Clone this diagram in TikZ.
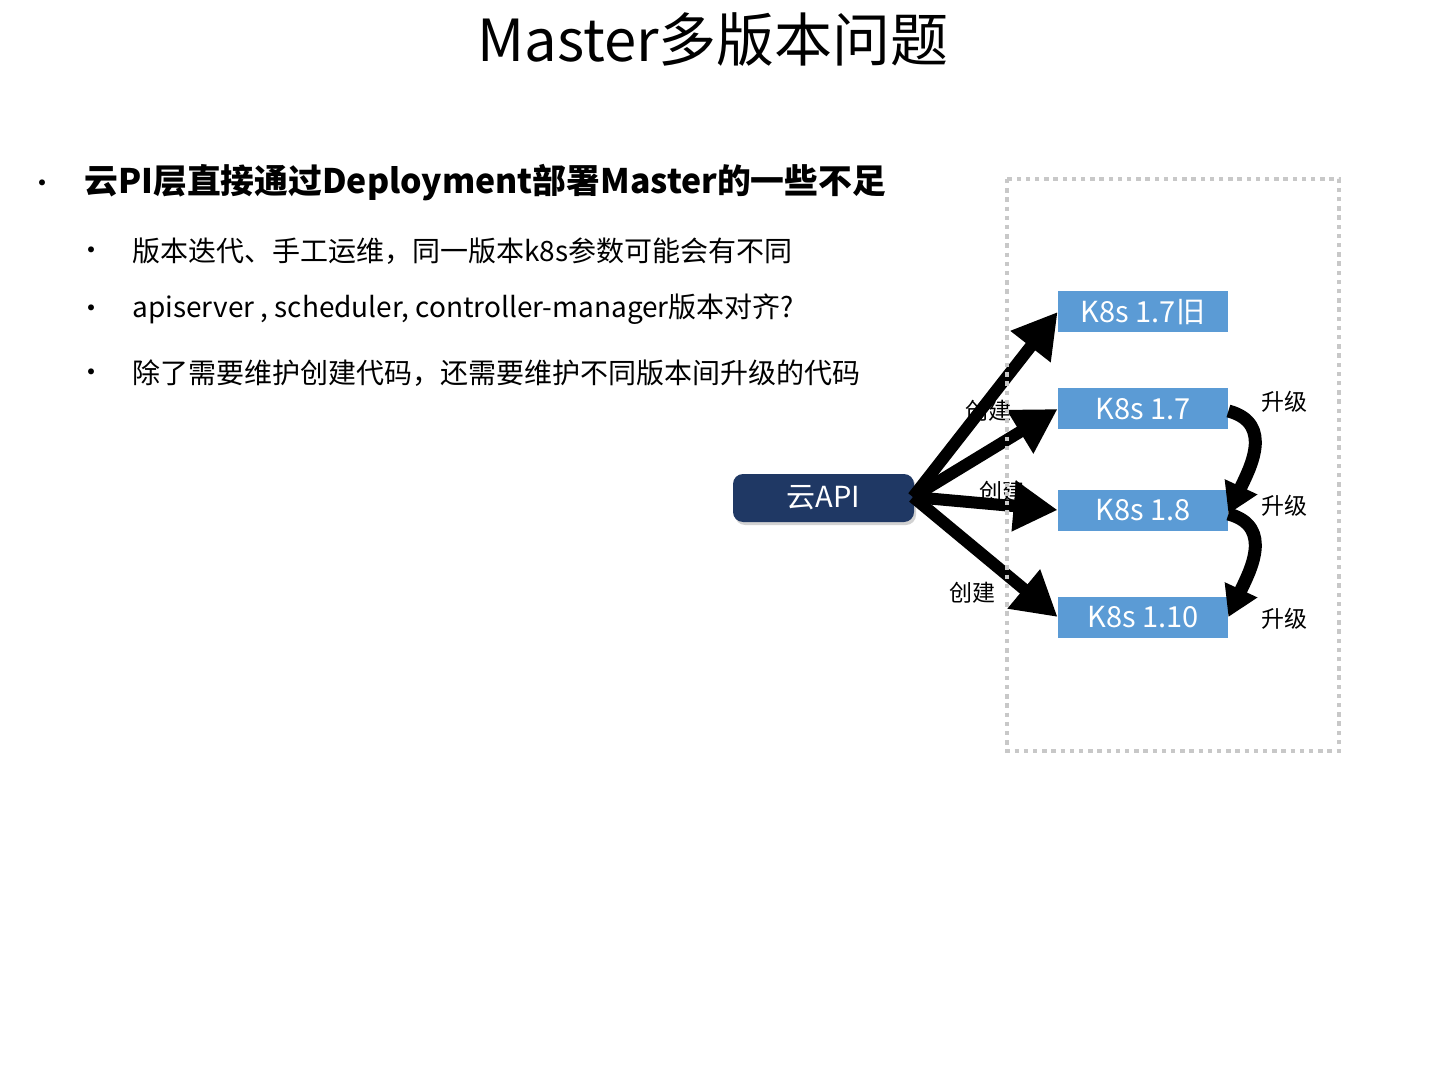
\documentclass[tikz,border=0pt]{standalone}
\usepackage{fontspec}
\setmainfont{Noto Sans CJK SC}
\usetikzlibrary{arrows.meta,shadows}
\definecolor{boxblue}{HTML}{5B9BD5}
\definecolor{navy}{HTML}{1F3864}
\definecolor{dotgray}{HTML}{C8C8C8}
\tikzset{
  k8sbox/.style={fill=boxblue, text=white, minimum width=85pt, minimum height=20.5pt, inner sep=0pt, font=\fontsize{14.5}{16}\selectfont},
  lbl/.style={font=\fontsize{11.5}{13}\selectfont, inner sep=0pt},
  bul/.style={anchor=west, inner sep=0pt, font=\fontsize{14}{16}\selectfont},
  createarrow/.style={line width=6pt, -{Triangle[length=22pt,width=24pt]}},
  uparrow/.style={line width=6.5pt, -{Triangle[length=15pt,width=17pt]}},
}
\begin{document}
\begin{tikzpicture}[x=0.5pt,y=-0.5pt]
\useasboundingbox[fill=white] (0,0) rectangle (1440,1080);
\node[font=\fontsize{29}{32}\selectfont, inner sep=0pt] (title) at (713,40) {Master多版本问题};
\node[anchor=center, inner sep=0pt, font=\fontsize{14}{16}\selectfont] (b0) at (42,187) {•};
\node[anchor=west, inner sep=0pt, font=\bfseries\fontsize{16.9}{20}\selectfont] (h1) at (84,183) {云PI层直接通过Deployment部署Master的一些不足};
\node[anchor=center, inner sep=0pt, font=\fontsize{14}{16}\selectfont] (b1) at (91,254) {•};
\node[bul] (t1) at (132,251) {版本迭代、手工运维，同一版本k8s参数可能会有不同};
\node[anchor=center, inner sep=0pt, font=\fontsize{14}{16}\selectfont] (b2) at (91,312) {•};
\node[bul] (t2) at (132,309) {apiserver , scheduler, controller-manager版本对齐?};
\node[anchor=center, inner sep=0pt, font=\fontsize{14}{16}\selectfont] (b3) at (91,376) {•};
\node[bul] (t3) at (132,373) {除了需要维护创建代码，还需要维护不同版本间升级的代码};

\node[k8sbox] (k0) at (1143,312) {K8s 1.7旧};
\node[k8sbox] (k1) at (1143,409) {K8s 1.7};
\node[k8sbox] (k2) at (1143,510) {K8s 1.8};
\node[k8sbox] (k3) at (1143,617) {K8s 1.10};
\node[fill=navy, text=white, rounded corners=5pt, minimum width=90.5pt, minimum height=24pt, inner sep=0pt, font=\fontsize{14.5}{16}\selectfont, drop shadow={opacity=0.35, shadow xshift=1pt, shadow yshift=-1.5pt}] (api) at (823.5,498) {云API};

\node[lbl] (c1) at (988,411) {创建};
\node[lbl] (c2) at (1002,492) {创建};
\node[lbl] (c3) at (972,593) {创建};
\node[lbl] (u1) at (1284,402) {升级};
\node[lbl] (u2) at (1284,506) {升级};
\node[lbl] (u3) at (1284,619) {升级};

\coordinate (o) at (913,497);
\draw[createarrow] (o) -- (k0.west);
\draw[createarrow] (o) -- (k1.west);
\draw[createarrow] (o) -- (k2.west);
\draw[createarrow] (o) -- (k3.west);
\draw[uparrow] ([yshift=-1pt]k1.east) to[out=-15,in=65,looseness=1.2] ([yshift=-2pt]k2.east);
\draw[uparrow] ([yshift=-2pt]k2.east) to[out=-15,in=65,looseness=1.2] (k3.east);

\draw[dotgray, line width=2.2pt, dash pattern=on 2.2pt off 2.4pt] (1007,179) rectangle (1339,751);
\end{tikzpicture}
\end{document}
